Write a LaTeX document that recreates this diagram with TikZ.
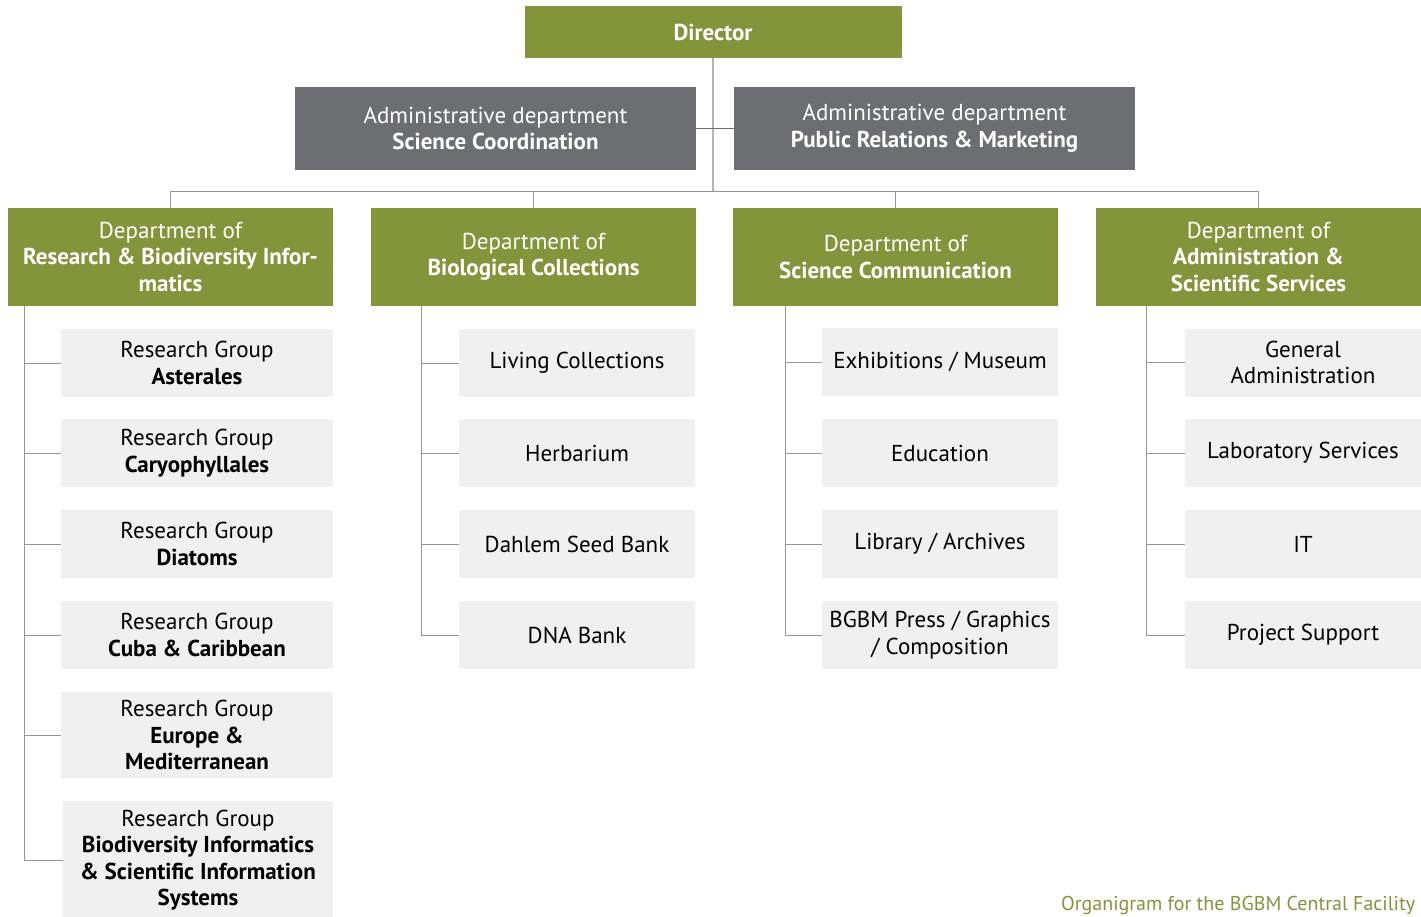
\documentclass[tikz,border=0pt]{standalone}
\usepackage{fontspec}
\setmainfont{PT Sans}
\usepackage{xcolor}
\usetikzlibrary{calc}
\definecolor{olive}{RGB}{132,148,58}
\definecolor{slate}{RGB}{109,110,114}
\definecolor{pale}{RGB}{240,240,240}
\definecolor{wire}{RGB}{150,150,150}

\tikzset{
	box/.style={inner sep=0pt, align=center, font=\fontsize{23}{26.5}\selectfont},
	topbox/.style={box, fill=olive, text=white, minimum width=377pt, minimum height=52pt},
	admbox/.style={box, fill=slate, text=white, minimum width=401pt, minimum height=83pt},
	deptbox/.style={box, fill=olive, text=white, minimum width=325pt, minimum height=98pt},
	unitbox/.style={box, fill=pale, text=black, minimum width=236pt, minimum height=68pt},
	groupbox/.style={unitbox, minimum width=272pt},
	link/.style={draw=wire, line width=1pt},
}

\begin{document}
\begin{tikzpicture}[x=1pt, y=-1pt]
	\clip (0,0) rectangle (1421,916);
	\fill[white] (0,0) rectangle (1421,916);

	% top of the chart
	\node[topbox] (dir) at (713,32) {\textbf{Director}};
	\node[admbox] (adm1) at (495.5,128.5) {Administrative department\\\textbf{Science Coordination}};
	\node[admbox] (adm2) at (934.5,128.5) {Administrative department\\\textbf{Public Relations \& Marketing}};

	% departments
	\node[deptbox] (d1) at (170.5,257) {Department of\\\textbf{Research \& Biodiversity Infor-}\\\textbf{matics}};
	\node[deptbox] (d2) at (533.5,257) {Department of\\\textbf{Biological Collections}};
	\node[deptbox] (d3) at (895.5,257) {Department of\\\textbf{Science Communication}};
	\node[deptbox] (d4) at (1258.5,257) {Department of\\\textbf{Administration \&}\\\textbf{Scientific Services}};

	% research groups
	\node[groupbox] (g1) at (197,363) {Research Group\\\textbf{Asterales}};
	\node[groupbox] (g2) at (197,453) {Research Group\\\textbf{Caryophyllales}};
	\node[groupbox] (g3) at (197,544) {Research Group\\\textbf{Diatoms}};
	\node[groupbox] (g4) at (197,635) {Research Group\\\textbf{Cuba \& Caribbean}};
	\node[groupbox, minimum height=86pt] (g5) at (197,735) {Research Group\\\textbf{Europe \&}\\\textbf{Mediterranean}};
	\node[groupbox, minimum width=270pt, minimum height=118pt] (g6) at (198,860) {Research Group\\\textbf{Biodiversity Informatics}\\\textbf{\& Scientific Information}\\\textbf{Systems}};

	% collections
	\node[unitbox] (c1) at (577,363) {Living Collections};
	\node[unitbox] (c2) at (577,453) {Herbarium};
	\node[unitbox] (c3) at (577,544) {Dahlem Seed Bank};
	\node[unitbox] (c4) at (577,635) {DNA Bank};

	% communication
	\node[unitbox] (s1) at (940,362) {Exhibitions / Museum};
	\node[unitbox] (s2) at (940,453) {Education};
	\node[unitbox] (s3) at (940,544) {Library / Archives};
	\node[unitbox] (s4) at (940,635) {BGBM Press / Graphics\\/ Composition};

	% services
	\node[unitbox] (a1) at (1303,362.5) {General\\Administration};
	\node[unitbox] (a2) at (1303,453) {Laboratory Services};
	\node[unitbox] (a3) at (1303,544) {IT};
	\node[unitbox] (a4) at (1303,635) {Project Support};

	\node[anchor=base west, text=olive, inner sep=0pt, font=\fontsize{20}{24}\selectfont] (cap) at (1061,910) {Organigram for the BGBM Central Facility};

	% connectors
	\coordinate (bus) at (dir.south |- 0,192);
	\draw[link, draw=wire!70, line width=2pt] (dir.south) -- (bus);
	\draw[link, draw=slate] (adm1.east) -- (adm2.west);
	\draw[link] (d1.north) -- ++(0,-16) -| (d4.north);
	\draw[link] (d2.north) -- ++(0,-16);
	\draw[link] (d3.north) -- ++(0,-16);

	\draw[link] ($(d1.south west)+(17,0)$) |- (g6.west);
	\foreach \g in {g1,g2,g3,g4,g5}
		\draw[link] (\g.west) -- ++(-36,0);
	\draw[link] ($(d2.south west)+(51,0)$) |- (c4.west);
	\foreach \g in {c1,c2,c3}
		\draw[link] (\g.west) -- ++(-37,0);
	\draw[link] ($(d3.south west)+(53,0)$) |- (s4.west);
	\foreach \g in {s1,s2,s3}
		\draw[link] (\g.west) -- ++(-36,0);
	\draw[link] ($(d4.south west)+(51,0)$) |- (a4.west);
	\foreach \g in {a1,a2,a3}
		\draw[link] (\g.west) -- ++(-38,0);
\end{tikzpicture}
\end{document}
